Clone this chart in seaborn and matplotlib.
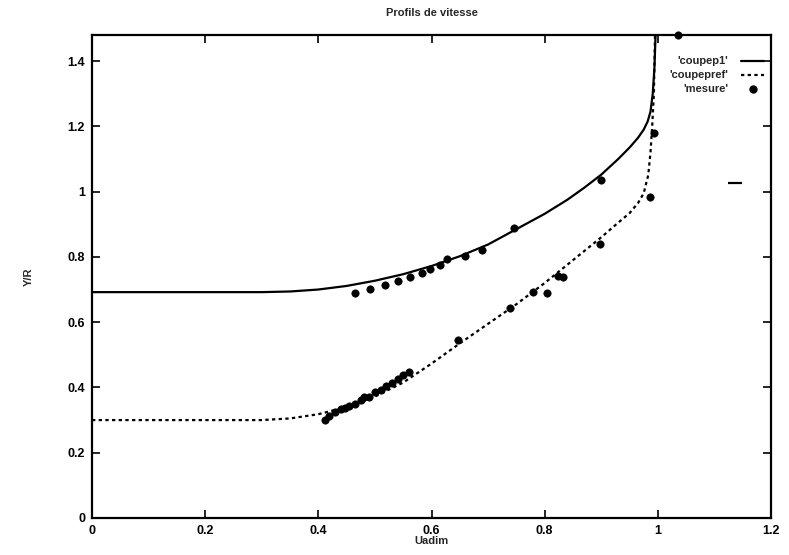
import matplotlib
matplotlib.use("Agg")
import matplotlib.pyplot as plt
import seaborn as sns
import pandas as pd

# Computed profile, section p1 (solid)
p1_x = [0.0, 0.3, 0.35, 0.4, 0.45, 0.5, 0.55, 0.6, 0.65, 0.7, 0.75, 0.8, 0.84,
        0.87, 0.9, 0.93, 0.95, 0.965, 0.975, 0.982, 0.987, 0.991, 0.994, 0.996]
p1_y = [0.692, 0.692, 0.694, 0.700, 0.711, 0.727, 0.747, 0.772, 0.802, 0.838,
        0.885, 0.932, 0.975, 1.012, 1.052, 1.10, 1.135, 1.165, 1.19, 1.215,
        1.245, 1.30, 1.38, 1.48]

# Computed profile, reference section (dashed)
pref_x = [0.0, 0.3, 0.35, 0.4, 0.45, 0.5, 0.55, 0.6, 0.65, 0.7, 0.75, 0.8, 0.85,
          0.9, 0.93, 0.95, 0.965, 0.975, 0.983, 0.987, 0.99, 0.993, 0.995]
pref_y = [0.300, 0.300, 0.305, 0.318, 0.340, 0.372, 0.415, 0.473, 0.535, 0.595,
          0.655, 0.720, 0.790, 0.860, 0.905, 0.934, 0.965, 0.995, 1.05, 1.12,
          1.20, 1.30, 1.48]

# Measurements
mes_x = [0.465, 0.491, 0.518, 0.541, 0.562, 0.583, 0.597, 0.615, 0.627, 0.659,
         0.689, 0.746, 0.90, 0.993, 1.035,
         0.412, 0.418, 0.43, 0.44, 0.447, 0.455, 0.465, 0.475, 0.48, 0.49, 0.5,
         0.51, 0.52, 0.53, 0.54, 0.55, 0.56, 0.647, 0.739, 0.779, 0.804, 0.823,
         0.832, 0.898, 0.986]
mes_y = [0.689, 0.701, 0.714, 0.726, 0.738, 0.750, 0.763, 0.775, 0.793, 0.802,
         0.821, 0.888, 1.035, 1.18, 1.48,
         0.300, 0.312, 0.325, 0.333, 0.336, 0.343, 0.350, 0.360, 0.372, 0.372,
         0.385, 0.393, 0.405, 0.415, 0.425, 0.437, 0.447, 0.545, 0.643, 0.692,
         0.689, 0.741, 0.738, 0.839, 0.983]

# Stray short dash drawn in the plot area
dash_x = [1.136]
dash_y = [1.026]

x_ticks = [0, 0.2, 0.4, 0.6, 0.8, 1, 1.2]
x_ticklabels = ["0", "0.2", "0.4", "0.6", "0.8", "1", "1.2"]
y_ticks = [0, 0.2, 0.4, 0.6, 0.8, 1, 1.2, 1.4]
y_ticklabels = ["0", "0.2", "0.4", "0.6", "0.8", "1", "1.2", "1.4"]

sns.set_theme(style="ticks")
plt.rcParams["font.family"] = ["Liberation Sans", "DejaVu Sans"]
plt.rcParams["font.weight"] = "bold"

fig = plt.figure(figsize=(7.89, 5.55), dpi=100)
ax = fig.add_axes([0.1166, 0.0667, 0.8606, 0.8703])

df_p1 = pd.DataFrame({"x": p1_x, "y": p1_y})
df_pref = pd.DataFrame({"x": pref_x, "y": pref_y})
df_mes = pd.DataFrame({"x": mes_x, "y": mes_y})

sns.lineplot(data=df_p1, x="x", y="y", sort=False, estimator=None, ax=ax,
             color="black", linewidth=1.6)
sns.lineplot(data=df_pref, x="x", y="y", sort=False, estimator=None, ax=ax,
             color="black", linewidth=1.6, linestyle=(0, (1.5, 1.5)))
sns.scatterplot(data=df_mes, x="x", y="y", ax=ax, color="black", s=28,
                edgecolor="black", linewidth=0.5, zorder=3, clip_on=False)
ax.plot(dash_x, dash_y, marker="_", markersize=10, markeredgewidth=1.6,
        color="black", linestyle="none")

ax.set_xlim(0, 1.2)
ax.set_ylim(0, 1.48)
ax.set_xticks(x_ticks)
ax.set_xticklabels(x_ticklabels)
ax.set_yticks(y_ticks)
ax.set_yticklabels(y_ticklabels)
ax.tick_params(direction="in", length=6, width=1.2, top=True, right=True,
               labelsize=9, pad=5, colors="black")
for lbl in ax.get_xticklabels() + ax.get_yticklabels():
    lbl.set_fontweight("bold")
for side in ax.spines.values():
    side.set_linewidth(1.6)
    side.set_color("black")

ax.set_xlabel("Uadim", fontsize=8, fontweight="bold", labelpad=-1)
ax.set_ylabel("Y/R", fontsize=8, fontweight="bold", labelpad=24)
ax.set_title("Profils de vitesse", fontsize=8, fontweight="bold", pad=14)

# Key in the upper right corner: right-aligned labels, samples to the right
tr = ax.transAxes
key_rows = [("'coupep1'", "-"), ("'coupepref'", "dash"), ("'mesure'", "o")]
row_y = [0.946, 0.917, 0.888]
for (label, kind), yy in zip(key_rows, row_y):
    ax.text(0.937, yy, label, transform=tr, ha="right", va="center",
            fontsize=8, fontweight="bold")
    if kind == "-":
        ax.plot([0.956, 0.99], [yy, yy], transform=tr, color="black",
                linewidth=1.6, clip_on=False)
    elif kind == "dash":
        ax.plot([0.956, 0.99], [yy, yy], transform=tr, color="black",
                linewidth=1.6, linestyle=(0, (1.5, 1.5)), clip_on=False)
    else:
        ax.plot([0.973], [yy], transform=tr, color="black", marker="o",
                markersize=5, linestyle="none", clip_on=False)

fig.savefig("out.png", dpi=100)
